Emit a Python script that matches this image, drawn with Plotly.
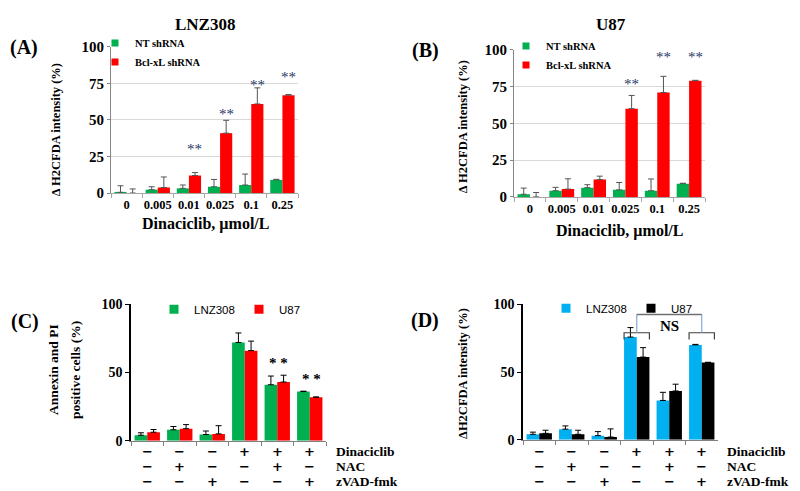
import plotly.graph_objects as go

# ---------------- data ----------------
doses = ["0", "0.005", "0.01", "0.025", "0.1", "0.25"]

# Panel A (LNZ308)
a_nt = [0.5, 2.3, 3.2, 4.3, 5.5, 9.0]
a_nt_err = [4.5, 2.0, 2.3, 5.0, 7.5, 0.4]
a_bcl = [0.0, 3.8, 12.0, 41.0, 61.0, 67.0]
a_bcl_err = [2.8, 7.2, 2.0, 8.8, 11.0, 0.4]
a_stars = [None, None, 30, 54, 74, 79.5]

# Panel B (U87)
b_nt = [1.8, 4.2, 6.3, 4.8, 4.2, 9.0]
b_nt_err = [4.2, 2.3, 2.0, 5.0, 8.0, 0.3]
b_bcl = [0.0, 5.3, 11.8, 60.0, 71.0, 79.0]
b_bcl_err = [3.0, 7.0, 2.3, 9.0, 11.0, 0.3]
b_stars = [None, None, None, 77, 95, 95]

# Panel C (Annexin / PI)
groups = ["g1", "g2", "g3", "g4", "g5", "g6"]
dinaciclib = ["−", "−", "−", "+", "+", "+"]
nac = ["−", "+", "−", "−", "+", "−"]
zvad = ["−", "−", "+", "−", "−", "+"]
row_labels = ["Dinaciclib", "NAC", "zVAD-fmk"]

c_lnz = [4.0, 8.0, 4.5, 72.0, 41.0, 36.0]
c_lnz_err = [1.8, 2.4, 2.6, 7.0, 6.4, 0.3]
c_u87 = [6.2, 8.8, 5.0, 66.0, 43.0, 31.8]
c_u87_err = [2.0, 3.0, 6.0, 7.0, 5.0, 0.3]
c_stars = [None, None, None, None, 57, 45]

# Panel D (H2CFDA)
d_lnz = [4.0, 7.8, 3.0, 75.8, 29.0, 70.0]
d_lnz_err = [1.6, 2.4, 3.0, 7.0, 6.0, 0.4]
d_u87 = [4.7, 4.0, 2.0, 61.0, 36.0, 57.0]
d_u87_err = [2.3, 3.0, 6.0, 7.0, 5.0, 0.2]

GREEN = "#00b050"
RED = "#ff0000"
CYAN = "#00b0f0"
BLACK = "#000000"

W, H = 800, 491
def px(x):
    return x / W
def py(y):
    return 1 - y / H

SERIF = "Liberation Serif"
SANS = "Liberation Sans"

fig = go.Figure()

def add_bar(x, y, err, color, name, xa, ya, errcolor):
    fig.add_trace(go.Bar(
        x=x, y=y, name=name, marker=dict(color=color, line=dict(width=0)),
        xaxis=xa, yaxis=ya, showlegend=False,
        error_y=dict(type="data", array=err, arrayminus=[0] * len(err), symmetric=False,
                     color=errcolor, thickness=1, width=3),
    ))

def add_legend(name, color, xa, ya, legend, size):
    fig.add_trace(go.Scatter(
        x=[None], y=[None], mode="markers", name=name,
        marker=dict(symbol="square", color=color, size=size),
        xaxis=xa, yaxis=ya, legend=legend, showlegend=True,
    ))

# A
add_bar(doses, a_nt, a_nt_err, GREEN, "NT shRNA", "x", "y", "#555555")
add_bar(doses, a_bcl, a_bcl_err, RED, "Bcl-xL shRNA", "x", "y", "#555555")
add_legend("NT shRNA", GREEN, "x", "y", "legend", 7)
add_legend("Bcl-xL shRNA", RED, "x", "y", "legend", 7)
# B
add_bar(doses, b_nt, b_nt_err, GREEN, "NT shRNA", "x2", "y2", "#555555")
add_bar(doses, b_bcl, b_bcl_err, RED, "Bcl-xL shRNA", "x2", "y2", "#555555")
add_legend("NT shRNA", GREEN, "x2", "y2", "legend2", 7)
add_legend("Bcl-xL shRNA", RED, "x2", "y2", "legend2", 7)
# C
add_bar(groups, c_lnz, c_lnz_err, GREEN, "LNZ308", "x3", "y3", BLACK)
add_bar(groups, c_u87, c_u87_err, RED, "U87", "x3", "y3", BLACK)
add_legend("LNZ308", GREEN, "x3", "y3", "legend3", 9)
add_legend("U87", RED, "x3", "y3", "legend3", 9)
# D
add_bar(groups, d_lnz, d_lnz_err, CYAN, "LNZ308", "x4", "y4", BLACK)
add_bar(groups, d_u87, d_u87_err, BLACK, "U87", "x4", "y4", BLACK)
add_legend("LNZ308", CYAN, "x4", "y4", "legend4", 9)
add_legend("U87", BLACK, "x4", "y4", "legend4", 9)

tickfont_x = dict(family=SERIF, size=12.5, color="#000", weight="bold")
tickfont_y = dict(family=SERIF, size=15, color="#000", weight="bold")

def xa_ab(dom):
    return dict(domain=dom, type="category", showline=True, linecolor="#a6a6a6", linewidth=1,
                ticks="outside", tickson="boundaries", ticklen=4, tickcolor="#a6a6a6",
                tickangle=0, tickfont=tickfont_x, showgrid=False, zeroline=False, fixedrange=True)

def ya_ab(dom, anchor):
    return dict(domain=dom, range=[0, 100], tickvals=[0, 25, 50, 75, 100], anchor=anchor,
                showgrid=True, gridcolor="#d9d9d9", gridwidth=1, showline=True, linecolor="#868686",
                ticks="outside", ticklen=3, tickcolor="#868686", tickfont=tickfont_y,
                zeroline=False, fixedrange=True)

def xa_cd(dom, anchor):
    return dict(domain=dom, type="category", anchor=anchor, showline=True, linecolor="#808080",
                linewidth=1, ticks="outside", tickson="boundaries", ticklen=4, tickcolor="#808080",
                showticklabels=False, showgrid=False, zeroline=False, fixedrange=True)

def ya_cd(dom, anchor):
    return dict(domain=dom, range=[0, 100], tickvals=[0, 50, 100], anchor=anchor, showgrid=False,
                showline=True, linecolor="#000", linewidth=1.5, ticks="outside", ticklen=4,
                tickcolor="#000", tickfont=dict(family=SERIF, size=14, color="#000", weight="bold"),
                zeroline=False, fixedrange=True)

legend_ab = dict(bgcolor="rgba(0,0,0,0)", font=dict(family=SERIF, size=10.5, color="#000", weight="bold"),
                 orientation="v", yanchor="top", xanchor="left", tracegroupgap=0, itemclick=False,
                 itemwidth=30)
legend_cd = dict(bgcolor="rgba(0,0,0,0)", font=dict(family=SANS, size=11.5, color="#000"),
                 orientation="h", yanchor="middle", xanchor="left", itemclick=False,
                 entrywidth=40, itemwidth=30)

fig.update_layout(
    width=W, height=H, margin=dict(l=0, r=0, t=0, b=0),
    paper_bgcolor="white", plot_bgcolor="white",
    barmode="group", bargap=0.22, bargroupgap=0,
    xaxis=xa_ab([px(103), px(290)]),
    yaxis=ya_ab([py(183), py(32)], "x"),
    xaxis2=dict(xa_ab([px(506), px(697)]), anchor="y2"),
    yaxis2=ya_ab([py(187), py(35)], "x2"),
    xaxis3=xa_cd([px(123), px(318)], "y3"),
    yaxis3=ya_cd([py(439), py(298)], "x3"),
    xaxis4=xa_cd([px(515), px(710)], "y4"),
    yaxis4=ya_cd([py(438), py(298)], "x4"),
    legend=dict(legend_ab, x=px(87), y=py(13)),
    legend2=dict(legend_ab, x=px(498), y=py(16)),
    legend3=dict(legend_cd, x=px(146), y=py(303)),
    legend4=dict(legend_cd, x=px(538), y=py(302)),
    showlegend=True,
)

ann = []
def text(x, y, t, size, family=SERIF, bold=True, angle=0, xanchor="center", color="#000",
         xref="paper", yref="paper", align="center"):
    ann.append(dict(x=x, y=y, xref=xref, yref=yref, text=t, showarrow=False, textangle=angle,
                    xanchor=xanchor, yanchor="middle", align=align,
                    font=dict(family=family, size=size, color=color, weight="bold" if bold else "normal")))

# titles and panel letters
text(px(197), py(9), "LNZ308", 17)
text(px(603), py(9), "U87", 17)
text(px(16), py(33), "(A)", 20)
text(px(417), py(36), "(B)", 20)
text(px(17), py(316), "(C)", 20)
text(px(417), py(315), "(D)", 20)
# axis titles
text(px(197), py(215), "Dinaciclib, µmol/L", 16)
text(px(611), py(222), "Dinaciclib, µmol/L", 16)
text(px(48), py(118), "Δ H2CFDA intensity (%)", 12.5, angle=-90)
text(px(455), py(115), "Δ H2CFDA intensity (%)", 12.5, angle=-90)
text(px(45), py(366), "Annexin and PI", 13.5, angle=-90)
text(px(67), py(366), "positive cells (%)", 13.5, angle=-90)
text(px(455), py(370), "ΔH2CFDA intensity (%)", 12.5, angle=-90)

# significance stars
off = (1 - 0.22) / 4
for i, s in enumerate(a_stars):
    if s is not None:
        text(i + off, s, "**", 15, bold=False, color="#1f3864", xref="x", yref="y")
for i, s in enumerate(b_stars):
    if s is not None:
        text(i + off, s, "**", 15, bold=False, color="#1f3864", xref="x2", yref="y2")
for i, s in enumerate(c_stars):
    if s is not None:
        text(i + 0.05, s, "* *", 15, bold=True, xref="x3", yref="y3")

# +/- rows below panels C and D
rows = [dinaciclib, nac, zvad]
row_y = [450, 465.5, 481]
for xa, lab_x in (("x3", 326), ("x4", 717)):
    for r, ry, lab in zip(rows, row_y, row_labels):
        for i, s in enumerate(r):
            text(i, py(ry), s, 13, family="DejaVu Sans", xref=xa)
        text(px(lab_x), py(ry), lab, 13.5, xanchor="left")

# NS bracket in D
text(4, 84, "NS", 15, xref="x4", yref="y4")
fig.update_layout(annotations=ann)

half = 0.39
shapes = []
for c in (3, 5):
    shapes.append(dict(type="path", xref="x4", yref="y4",
                       path=f"M {c-half},74 L {c-half},79 L {c+half},79 L {c+half},74",
                       line=dict(color="#404040", width=1.2)))
    shapes.append(dict(type="line", xref="x4", yref="y4", x0=c, x1=c, y0=79, y1=92.5,
                       line=dict(color="#7fa7d9", width=1.2)))
shapes.append(dict(type="line", xref="x4", yref="y4", x0=3, x1=5, y0=92.5, y1=92.5,
                   line=dict(color="#707070", width=1.5)))
fig.update_layout(shapes=shapes)

fig.write_html("out.html")
